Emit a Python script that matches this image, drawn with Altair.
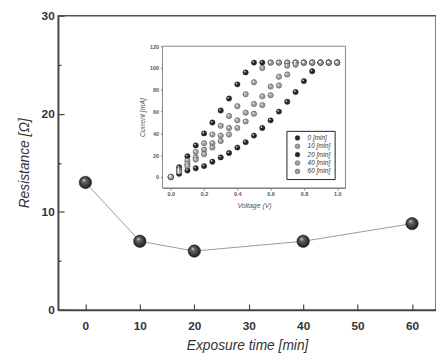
import altair as alt
import pandas as pd

# ---------------- main data ----------------
exposure_min = [0, 10, 20, 40, 60]
resistance_ohm = [13, 7, 6, 7, 8.8]
x_ticks = [0, 5, 10, 15, 20, 25, 30, 35, 40, 45, 50, 55, 60]
y_ticks = [0, 5, 10, 15, 20, 25, 30]

# ---------------- inset data ----------------
voltage = [0.0, 0.05, 0.1, 0.15, 0.2, 0.25, 0.3, 0.35, 0.4, 0.45, 0.5,
           0.55, 0.6, 0.65, 0.7, 0.75, 0.8, 0.85, 0.9, 0.95, 1.0]
cur_0 = [0, 9, 19, 29, 40, 50, 61, 72, 85, 96, 105, 105, 105, 105, 105, 105, 105, 105, 105, 105, 105]
cur_10 = [0, 7, 15, 23, 31, 39, 47, 56, 65, 76, 87, 100, 105, 105, 105, 105, 105, 105, 105, 105, 105]
cur_20 = [0, 3, 6, 8, 10, 14, 18, 22, 27, 32, 38, 45, 52, 60, 69, 78, 88, 97, 105, 105, 105]
cur_40 = [0, 6, 12, 18, 25, 31, 38, 45, 52, 59, 67, 74, 83, 92, 102, 105, 105, 105, 105, 105, 105]
cur_60 = [0, 5, 10, 16, 21, 27, 33, 39, 45, 51, 58, 66, 75, 84, 94, 103, 105, 105, 105, 105, 105]
series_labels = ["0 [min]", "10 [min]", "20 [min]", "40 [min]", "60 [min]"]
series_colors = ["#262626", "#a0a0a0", "#262626", "#a0a0a0", "#a0a0a0"]
inset_x_ticks = [0.0, 0.1, 0.2, 0.3, 0.4, 0.5, 0.6, 0.7, 0.8, 0.9, 1.0]
inset_y_ticks = [0, 20, 40, 60, 80, 100, 120]
inset_x_domain = [-0.05, 1.05]
inset_y_domain = [-10, 120]

main_df = pd.DataFrame({"t": exposure_min, "r": resistance_ohm})
rows = []
for lab, cur in zip(series_labels, [cur_0, cur_10, cur_20, cur_40, cur_60]):
    for v, c in zip(voltage, cur):
        rows.append({"series": lab, "V": v, "I": c})
inset_df = pd.DataFrame(rows)
frame_df = pd.DataFrame({"x0": [inset_x_domain[0]], "x1": [inset_x_domain[1]],
                         "y0": [inset_y_domain[0]], "y1": [inset_y_domain[1]]})

FONT = "Liberation Sans"
W, H = 384, 299

xs = alt.Scale(domain=[-5, 64.4], nice=False, zero=False)
ys = alt.Scale(domain=[0, 30], nice=False, zero=False)

xaxis = alt.Axis(
    values=x_ticks, labelExpr="datum.value % 10 === 0 ? datum.label : ''",
    title="Exposure time [min]", grid=False,
    tickSize={"condition": {"test": "datum.value % 10 === 0", "value": -6}, "value": -3},
    labelPadding=17, titlePadding=7,
    labelFont=FONT, labelFontSize=12, labelFontWeight="bold", labelColor="#333",
    titleFont=FONT, titleFontSize=14, titleFontStyle="italic", titleFontWeight="normal",
    titleColor="#333", domainColor="#444", domainWidth=1.5, tickColor="#444", tickWidth=1.2,
)
yaxis = alt.Axis(
    values=y_ticks, labelExpr="datum.value % 10 === 0 ? datum.label : ''",
    title="Resistance [Ω]", grid=False,
    tickSize={"condition": {"test": "datum.value % 10 === 0", "value": -6}, "value": -3},
    labelPadding=10, titlePadding=10,
    labelFont=FONT, labelFontSize=12, labelFontWeight="bold", labelColor="#333",
    titleFont=FONT, titleFontSize=14, titleFontStyle="italic", titleFontWeight="normal",
    titleColor="#333", domainColor="#444", domainWidth=1.5, tickColor="#444", tickWidth=1.2,
)

sphere_dark = {
    "gradient": "radial",
    "x1": 0.36, "y1": 0.3, "r1": 0.0,
    "x2": 0.5, "y2": 0.5, "r2": 0.6,
    "stops": [{"offset": 0, "color": "#e0e0e0"}, {"offset": 0.25, "color": "#666"},
              {"offset": 1, "color": "#0d0d0d"}],
}

line = alt.Chart(main_df).mark_line(color="#9a9a9a", strokeWidth=1).encode(
    x=alt.X("t:Q", scale=xs, axis=xaxis),
    y=alt.Y("r:Q", scale=ys, axis=yaxis),
)
pts = alt.Chart(main_df).mark_point(filled=True, size=160, fill=sphere_dark, stroke="#111",
                                    strokeWidth=0.5, opacity=1).encode(
    x=alt.X("t:Q", scale=xs), y=alt.Y("r:Q", scale=ys))
main = alt.layer(line, pts)

# inset scales mapped into a sub-rectangle of the plot
ixs = alt.Scale(domain=inset_x_domain, range=[106, 292], nice=False, zero=False)
iys = alt.Scale(domain=inset_y_domain, range=[175, 31], nice=False, zero=False)

ixaxis = alt.Axis(
    orient="bottom", offset=175 - H, values=inset_x_ticks, format=".1f",
    labelExpr="round(datum.value * 10) % 2 === 0 ? datum.label : ''",
    title="Voltage (V)", grid=False, tickSize=2, labelPadding=2, titlePadding=4,
    labelFont=FONT, labelFontSize=5.5, labelFontWeight="bold", labelColor="#555",
    titleFont=FONT, titleFontSize=7, titleFontStyle="italic", titleFontWeight="normal",
    titleColor="#555", domainColor="#777", tickColor="#777", domainWidth=1,
)
iyaxis = alt.Axis(
    orient="left", offset=-106, values=inset_y_ticks,
    title="Current [mA]", grid=False, tickSize=2, labelPadding=2, titlePadding=4,
    labelFont=FONT, labelFontSize=5.5, labelFontWeight="bold", labelColor="#555",
    titleFont=FONT, titleFontSize=7, titleFontStyle="italic", titleFontWeight="normal",
    titleColor="#555", domainColor="#777", tickColor="#777", domainWidth=1,
)

frame = alt.Chart(frame_df).mark_rect(fill="white", stroke="#888", strokeWidth=1).encode(
    x=alt.X("x0:Q", scale=ixs, axis=ixaxis), x2="x1:Q",
    y=alt.Y("y0:Q", scale=iys, axis=iyaxis), y2="y1:Q",
)
ipts = alt.Chart(inset_df).mark_point(filled=True, size=30, stroke="#222",
                                      strokeWidth=0.4, opacity=1).encode(
    x=alt.X("V:Q", scale=ixs), y=alt.Y("I:Q", scale=iys),
    color=alt.Color("series:N", scale=alt.Scale(domain=series_labels, range=series_colors),
                    sort=series_labels,
                    legend=alt.Legend(orient="none", legendX=232, legendY=117, title=None,
                                      labelFont=FONT, labelFontSize=6.5, labelFontStyle="italic",
                                      labelColor="#333", symbolType="circle", symbolSize=24,
                                      symbolStrokeColor="#222", symbolStrokeWidth=0.4,
                                      strokeColor="#222", fillColor="white", padding=4,
                                      rowPadding=1.5, labelOffset=7, symbolOffset=4,
                                      cornerRadius=0)),
)
ihl = alt.Chart(inset_df).mark_point(filled=True, size=3, color="white", opacity=0.8,
                                     xOffset=-0.8, yOffset=-0.8).encode(
    x=alt.X("V:Q", scale=ixs), y=alt.Y("I:Q", scale=iys))
inset = alt.layer(frame, ipts, ihl)

chart = alt.layer(main, inset).resolve_scale(x="independent", y="independent").properties(
    width=W, height=H,
    autosize=alt.AutoSizeParams(type="none"),
    padding={"left": 51, "top": 5, "right": 0, "bottom": 45},
    background="white",
).configure_view(stroke="#555", strokeWidth=1.5)

chart.save("out.html", embed_options={"renderer": "svg", "actions": False})
